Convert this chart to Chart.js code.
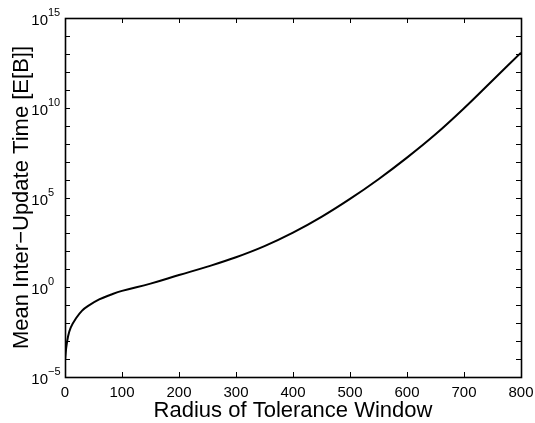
<!DOCTYPE html>
<html>
<head>
<meta charset="utf-8">
<script src="https://cdn.jsdelivr.net/npm/chart.js@4.4.0/dist/chart.umd.min.js"></script>
<style>
  html, body { margin: 0; padding: 0; background: #fff; }
</style>
</head>
<body>
<canvas id="chart" width="535" height="423"></canvas>
<script>
// radius of tolerance window and log10 of mean inter-update time E[B]
const radius    = [0,    2,    5,    10,    20,   30,   40,    60,    80,   100,  150, 200,  250,  300,  350,  400,  450,  500,  550,  600,  650,  700,  750,   800]
const log10Time = [-4.1, -3.4, -2.8, -2.25, -1.7, -1.3, -1.05, -0.68, -0.42, -0.2, 0.2, 0.68, 1.15, 1.67, 2.29, 3.04, 3.92, 4.92, 6.02, 7.22, 8.52, 9.97, 11.52, 13.07]

const xTicks = [0, 100, 200, 300, 400, 500, 600, 700, 800]
const yLabelExps = [-5, 0, 5, 10, 15]
const yDecades = [-5, -4, -3, -2, -1, 0, 1, 2, 3, 4, 5, 6, 7, 8, 9, 10, 11, 12, 13, 14, 15]

const FONT = '"Liberation Sans", Arial, Helvetica, sans-serif'

// matlab style box, inward ticks and labels
const matlabAxes = {
  id: 'matlabAxes',
  afterDraw(chart) {
    const {ctx, chartArea: a, scales: {x, y}} = chart
    ctx.save()
    ctx.strokeStyle = '#000'
    ctx.lineWidth = 1.6
    ctx.strokeRect(a.left + 0.5, a.top + 0.5, a.right - a.left, a.bottom - a.top)

    ctx.lineWidth = 1
    ctx.beginPath()
    xTicks.forEach(v => {
      const px = Math.round(x.getPixelForValue(v)) + 0.5
      ctx.moveTo(px, a.bottom); ctx.lineTo(px, a.bottom - 5)
      ctx.moveTo(px, a.top); ctx.lineTo(px, a.top + 5)
    })
    yDecades.forEach(e => {
      const py = Math.round(y.getPixelForValue(Math.pow(10, e))) + 0.5
      ctx.moveTo(a.left, py); ctx.lineTo(a.left + 5, py)
      ctx.moveTo(a.right, py); ctx.lineTo(a.right - 5, py)
    })
    ctx.stroke()

    ctx.fillStyle = '#000'
    ctx.textBaseline = 'alphabetic'

    // x tick labels
    ctx.font = '15px ' + FONT
    ctx.textAlign = 'center'
    xTicks.forEach(v => ctx.fillText(String(v), x.getPixelForValue(v), a.bottom + 20))

    // y tick labels 10^n
    yLabelExps.forEach(e => {
      const py = y.getPixelForValue(Math.pow(10, e))
      ctx.font = '15px ' + FONT
      ctx.textAlign = 'right'
      ctx.fillText('10', a.left - 17, py + 7)
      ctx.font = '11px ' + FONT
      ctx.textAlign = 'left'
      ctx.fillText(e < 0 ? '\u2212' + (-e) : String(e), a.left - 17, py - 2)
    })

    // axis titles
    ctx.font = '22px ' + FONT
    ctx.textAlign = 'center'
    ctx.fillText('Radius of Tolerance Window', (a.left + a.right) / 2, a.bottom + 40)

    ctx.save()
    ctx.translate(28, (a.top + a.bottom) / 2)
    ctx.rotate(-Math.PI / 2)
    ctx.fillText('Mean Inter\u2212Update Time [E[B]]', 0, 0)
    ctx.restore()

    ctx.restore()
  }
}

const points = radius.map((r, i) => ({x: r, y: Math.pow(10, log10Time[i])}))

new Chart(document.getElementById('chart'), {
  type: 'line',
  data: {
    datasets: [{
      data: points,
      borderColor: '#000',
      borderWidth: 2,
      pointRadius: 0,
      fill: false,
      tension: 0.4
    }]
  },
  options: {
    responsive: false,
    animation: false,
    layout: {
      padding: {left: 65, right: 14, top: 18, bottom: 46}
    },
    scales: {
      x: {type: 'linear', display: false, min: 0, max: 800},
      y: {type: 'logarithmic', display: false, min: 1e-5, max: 1e15}
    },
    plugins: {
      legend: {display: false},
      tooltip: {enabled: false}
    }
  },
  plugins: [matlabAxes]
})
</script>
</body>
</html>
